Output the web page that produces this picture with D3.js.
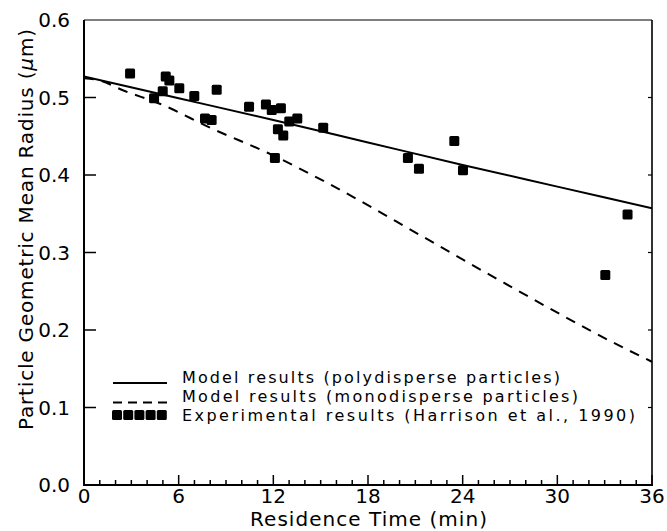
<!DOCTYPE html>
<html><head><meta charset="utf-8">
<script src="https://cdnjs.cloudflare.com/ajax/libs/d3/7.8.5/d3.min.js"></script>
<style>body{margin:0;background:#fff}svg{display:block}text{font-family:"DejaVu Sans",sans-serif;fill:#000}</style>
</head><body>
<svg id="c" width="667" height="531"></svg>
<script>
// Data
const expTime   = [2.92,4.44,4.99,5.18,5.41,6.04,6.99,8.41,7.67,8.09,10.46,11.53,11.90,12.48,12.29,12.63,13.01,13.52,15.16,12.10,23.47,20.53,21.23,24.02,34.45,33.04];
const expRadius = [0.531,0.499,0.508,0.527,0.522,0.512,0.502,0.510,0.473,0.471,0.488,0.491,0.484,0.486,0.459,0.451,0.469,0.473,0.461,0.422,0.444,0.422,0.408,0.406,0.349,0.271];
const polyTime   = [0,6,12,18,24,30,36];
const polyRadius = [0.527,0.499,0.471,0.442,0.413,0.385,0.357];
const monoTime   = [0,1,2.5,4.8,8.2,11.6,15.4,21.6,26.6,34.2,36];
const monoRadius = [0.525,0.522,0.509,0.492,0.459,0.429,0.390,0.319,0.261,0.177,0.159];
const xTicks = [0,6,12,18,24,30,36];
const yTicks = [0,0.1,0.2,0.3,0.4,0.5,0.6];
const legendLabels = ["Model results (polydisperse particles)","Model results (monodisperse particles)","Experimental results (Harrison et al., 1990)"];
const xTitle = "Residence Time (min)";

const svg = d3.select("#c");
const L=84, R=652, T=20, B=485;
const x = d3.scaleLinear().domain([0,36]).range([L,R]);
const y = d3.scaleLinear().domain([0,0.6]).range([B,T]);

// frame
svg.append("line").attr("x1",L).attr("x2",R).attr("y1",T).attr("y2",T).attr("stroke","#000").attr("stroke-width",1.2);
svg.append("line").attr("x1",R).attr("x2",R).attr("y1",T).attr("y2",B).attr("stroke","#000").attr("stroke-width",1.6);
svg.append("line").attr("x1",L).attr("x2",L).attr("y1",T).attr("y2",B+1).attr("stroke","#000").attr("stroke-width",2);
svg.append("line").attr("x1",L-1).attr("x2",R+1).attr("y1",B).attr("y2",B).attr("stroke","#000").attr("stroke-width",2);

// x ticks (minor every 1, major every 6), inward
const minor = d3.range(0,37,1);
svg.append("g").selectAll("line").data(minor).join("line")
  .attr("x1",d=>x(d)).attr("x2",d=>x(d)).attr("y1",B).attr("y2",d=>B-(d%6===0?10:5))
  .attr("stroke","#000").attr("stroke-width",1.5);
svg.append("g").selectAll("text").data(xTicks).join("text")
  .attr("x",d=>x(d)).attr("y",B+18).attr("text-anchor","middle").attr("font-size",20)
  .text(d=>d);

// y ticks
svg.append("g").selectAll("line").data(yTicks.slice(1,6)).join("line")
  .attr("x1",L).attr("x2",L+12).attr("y1",d=>y(d)).attr("y2",d=>y(d)).attr("stroke","#000").attr("stroke-width",1.5);
svg.append("g").selectAll("line").data(yTicks.slice(1,6)).join("line")
  .attr("x1",R).attr("x2",R-4).attr("y1",d=>y(d)).attr("y2",d=>y(d)).attr("stroke","#000").attr("stroke-width",1.2);
svg.append("g").selectAll("text").data(yTicks).join("text")
  .attr("x",L-14).attr("y",d=>y(d)+7).attr("text-anchor","end").attr("font-size",20)
  .text(d=>d.toFixed(1));

// axis titles
svg.append("text").attr("x",(250+487)/2).attr("y",526).attr("text-anchor","middle").attr("font-size",20)
  .attr("textLength",237).attr("lengthAdjust","spacing").text(xTitle);
const yt = svg.append("text").attr("transform","translate(33,229.5) rotate(-90)").attr("text-anchor","middle")
  .attr("font-size",20).attr("textLength",401).attr("lengthAdjust","spacing");
yt.append("tspan").text("Particle Geometric Mean Radius (");
yt.append("tspan").attr("font-style","italic").text("\u03BC");
yt.append("tspan").text("m)");

// clip
svg.append("clipPath").attr("id","clip").append("rect").attr("x",L).attr("y",T).attr("width",R-L).attr("height",B-T);

const line = d3.line().x(d=>x(d[0])).y(d=>y(d[1])).curve(d3.curveMonotoneX);
const g = svg.append("g").attr("clip-path","url(#clip)");
g.append("path").datum(d3.zip(polyTime,polyRadius)).attr("d",line).attr("fill","none").attr("stroke","#000").attr("stroke-width",2);
g.append("path").datum(d3.zip(monoTime,monoRadius)).attr("d",line).attr("fill","none").attr("stroke","#000").attr("stroke-width",2).attr("stroke-dasharray","10,8");

const ms=10;
svg.append("g").selectAll("rect").data(d3.zip(expTime,expRadius)).join("rect")
  .attr("x",d=>x(d[0])-ms/2).attr("y",d=>y(d[1])-ms/2).attr("width",ms).attr("height",ms).attr("rx",1.5).attr("fill","#000");

// legend
const lg = svg.append("g");
const rows=[383,402,421];
lg.append("line").attr("x1",113).attr("x2",167).attr("y1",383).attr("y2",383).attr("stroke","#000").attr("stroke-width",2);
lg.append("line").attr("x1",113).attr("x2",167).attr("y1",402.5).attr("y2",402.5).attr("stroke","#000").attr("stroke-width",2).attr("stroke-dasharray","9,6");
lg.append("g").selectAll("rect").data(d3.range(5)).join("rect")
  .attr("x",i=>112+i*11.2).attr("y",415-5).attr("width",10).attr("height",10).attr("rx",1.5).attr("fill","#000");
const widths=[378,396,453];
lg.selectAll("text.l").data(legendLabels).join("text").attr("class","l")
  .attr("x",182).attr("y",(d,i)=>rows[i]).attr("font-size",16)
  .attr("textLength",(d,i)=>widths[i]).attr("lengthAdjust","spacing").text(d=>d);
</script>
</body></html>
